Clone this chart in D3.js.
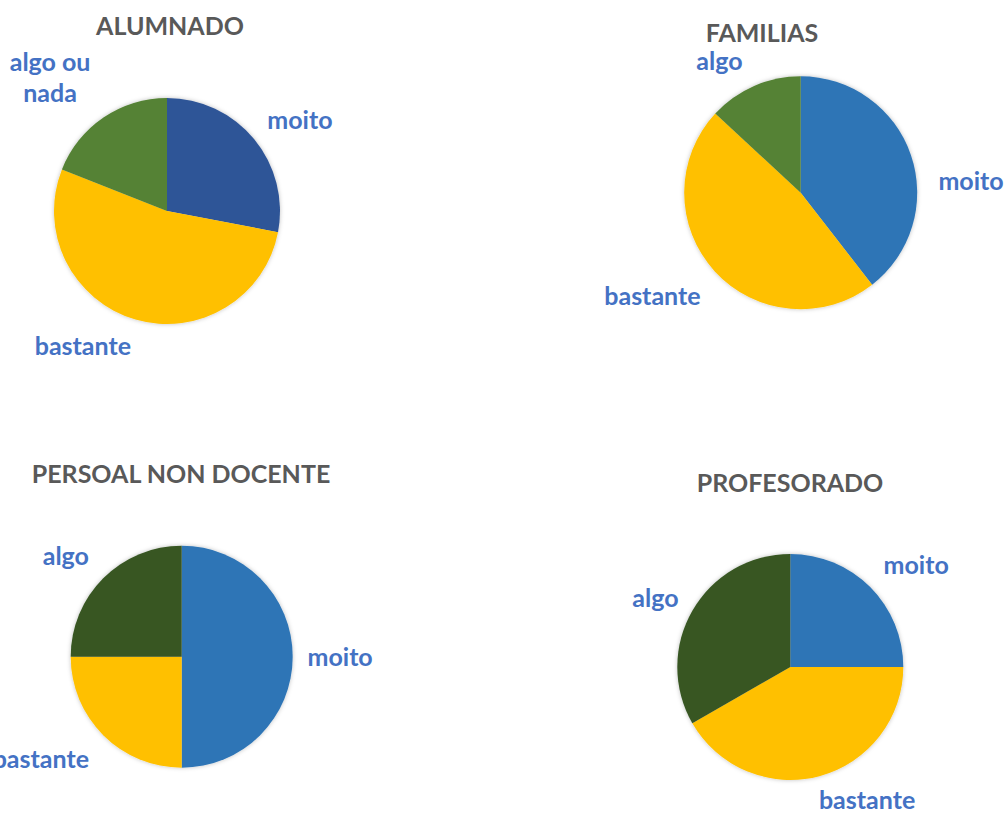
<!DOCTYPE html>
<html>
<head>
<meta charset="utf-8">
<script src="https://cdn.jsdelivr.net/npm/d3@7"></script>
<style>
  body { margin: 0; background: #fff; }
  svg { display: block; font-family: Lato, "Open Sans", sans-serif; }
  .title { fill: #595959; font-weight: bold; font-size: 25px; }
  .label { fill: #4472C4; font-weight: bold; font-size: 25px; }
</style>
</head>
<body>
<svg width="1006" height="813"></svg>
<script>
// chart data
var titles = ["ALUMNADO", "FAMILIAS", "PERSOAL NON DOCENTE", "PROFESORADO"];
var alumnadoLabels = ["moito", "bastante", "algo ou nada"];
var otherLabels = ["moito", "bastante", "algo"];
var alumnadoValues = [28, 53, 19];
var familiasValues = [39.5, 47.4, 13.1];
var persoalValues = [50, 25, 25];
var profesoradoValues = [25, 41.7, 33.3];

// layout of the four panels (pie centre, radius, title, label nudges)
var panels = [
  { title: titles[0], labels: alumnadoLabels, values: alumnadoValues,
    colors: ["#2F5597", "#FFC000", "#548235"],
    cx: 167, cy: 211, r: 113, titleX: 170, titleY: 35,
    nudge: [[11, 10], [-40, -17], [-28, -2]] },
  { title: titles[1], labels: otherLabels, values: familiasValues,
    colors: ["#2E75B6", "#FFC000", "#548235"],
    cx: 800.7, cy: 192.7, r: 116.5, titleX: 762, titleY: 42,
    nudge: [[16, 41], [-28, -7], [-16, 18]] },
  { title: titles[2], labels: otherLabels, values: persoalValues,
    colors: ["#2E75B6", "#FFC000", "#375623"],
    cx: 181.7, cy: 656.7, r: 111, titleX: 181, titleY: 483,
    nudge: [[3, 1], [-31, -7], [-6, 9]] },
  { title: titles[3], labels: otherLabels, values: profesoradoValues,
    colors: ["#2E75B6", "#FFC000", "#375623"],
    cx: 790.3, cy: 667, r: 113, titleX: 790, titleY: 492,
    nudge: [[14, 10], [36, -20], [2, 10]] }
];

var svg = d3.select("svg");

// soft shadow like the office pie
var defs = svg.append("defs");
var f = defs.append("filter").attr("id", "shadow")
  .attr("x", "-10%").attr("y", "-10%").attr("width", "120%").attr("height", "120%");
f.append("feDropShadow").attr("dx", 0).attr("dy", 0)
  .attr("stdDeviation", 2).attr("flood-color", "#000").attr("flood-opacity", 0.25);

var pie = d3.pie().sort(null).value(d => d.value);

panels.forEach(function(p) {
  var data = p.values.map((v, i) => ({ label: p.labels[i], value: v, color: p.colors[i], nudge: p.nudge[i] }));
  var arcs = pie(data);
  var arc = d3.arc().innerRadius(0).outerRadius(p.r);
  var labelArc = d3.arc().innerRadius(p.r * 1.4).outerRadius(p.r * 1.4);

  var g = svg.append("g").attr("transform", `translate(${p.cx},${p.cy})`);

  g.append("g").attr("filter", "url(#shadow)")
    .selectAll("path")
    .data(arcs)
    .enter().append("path")
    .attr("d", arc)
    .style("fill", d => d.data.color);

  var lab = g.selectAll(".label")
    .data(arcs)
    .enter().append("text")
    .attr("class", "label")
    .attr("text-anchor", "middle")
    .attr("transform", function(d) {
      var c = labelArc.centroid(d);
      return `translate(${c[0] + d.data.nudge[0]},${c[1] + d.data.nudge[1]})`;
    });

  // "algo ou nada" wraps onto two lines
  lab.each(function(d) {
    var t = d3.select(this);
    var words = d.data.label === "algo ou nada" ? ["algo ou", "nada"] : [d.data.label];
    var lh = 31;
    words.forEach(function(w, i) {
      t.append("tspan")
        .attr("x", 0)
        .attr("y", (i - (words.length - 1) / 2) * lh)
        .attr("dy", "0.35em")
        .text(w);
    });
  });

  svg.append("text")
    .attr("class", "title")
    .attr("x", p.titleX)
    .attr("y", p.titleY)
    .attr("text-anchor", "middle")
    .text(p.title);
});
</script>
</body>
</html>
